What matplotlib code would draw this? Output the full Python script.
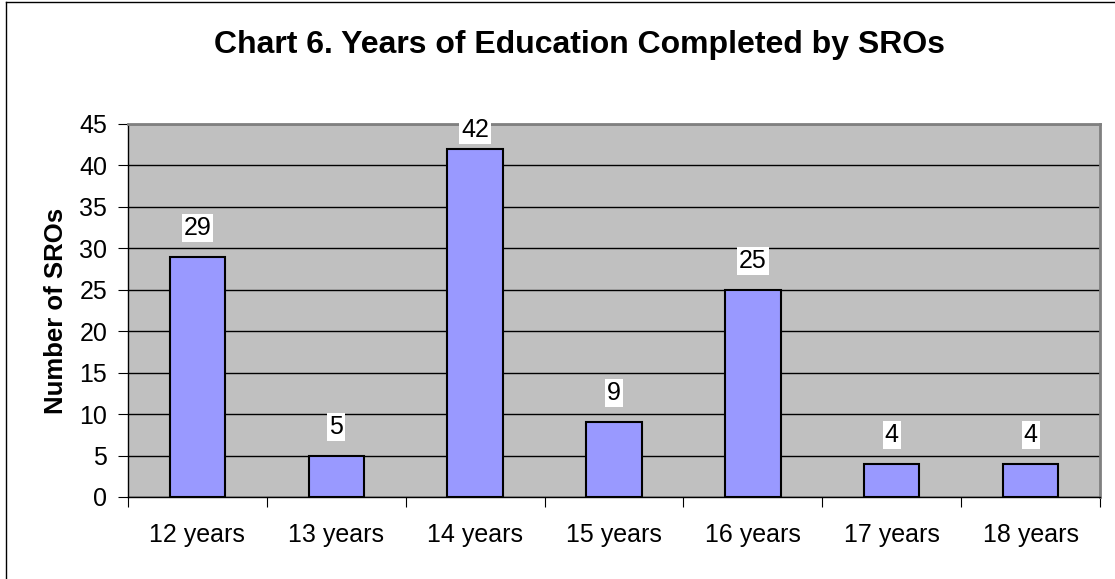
import matplotlib
matplotlib.use("Agg")
import matplotlib.pyplot as plt
from matplotlib.lines import Line2D

# === DATOS ===
categories = ["12 years", "13 years", "14 years", "15 years", "16 years", "17 years", "18 years"]
counts = [29, 5, 42, 9, 25, 4, 4]
y_ticks = [0, 5, 10, 15, 20, 25, 30, 35, 40, 45]

plt.rcParams['font.family'] = ['Liberation Sans', 'DejaVu Sans']

W, H = 1115, 579
fig = plt.figure(figsize=(W / 100, H / 100), dpi=100)

# borde exterior (solo izquierda y arriba quedan dentro de la imagen)
fig.lines.append(Line2D([5.5 / W, 5.5 / W], [0, 1 - 1.5 / H], transform=fig.transFigure,
                        color='black', linewidth=1))
fig.lines.append(Line2D([5.5 / W, 1], [1 - 1.5 / H, 1 - 1.5 / H], transform=fig.transFigure,
                        color='black', linewidth=1))

ax = fig.add_axes([128 / W, 1 - 497 / H, (1100 - 128) / W, (497 - 124) / H])
ax.set_facecolor('#C0C0C0')

x = list(range(len(categories)))
ax.bar(x, counts, width=0.4, color='#9999FF', edgecolor='black', linewidth=1.5, zorder=3)

ax.set_xlim(-0.5, len(categories) - 0.5)
ax.set_ylim(0, 45)
ax.set_yticks(y_ticks)
ax.yaxis.grid(True, color='black', linewidth=1, zorder=1)
ax.set_axisbelow(True)

# ticks del eje x entre categorias
ax.set_xticks([i + 0.5 for i in range(-1, len(categories))])
ax.set_xticklabels([])
ax.set_xticks(x, minor=True)
ax.set_xticklabels(categories, minor=True, fontsize=18)
ax.tick_params(axis='x', which='minor', length=0, pad=19)
ax.tick_params(axis='x', which='major', length=7, direction='out', color='black')
ax.tick_params(axis='y', length=7, direction='out', labelsize=18, pad=8)

for side in ['top', 'right']:
    ax.spines[side].set_color('#808080')
    ax.spines[side].set_linewidth(2)
for side in ['left', 'bottom']:
    ax.spines[side].set_color('black')
    ax.spines[side].set_linewidth(1)

# etiquetas de datos
for i, v in enumerate(counts):
    ly = min(v + 3.5, 44.3)
    ax.text(i, ly, str(v), ha='center', va='center', fontsize=18, zorder=4,
            bbox=dict(facecolor='white', edgecolor='none', pad=1.5))

ax.set_ylabel("Number of SROs", fontsize=18.5, fontweight='bold', labelpad=8)
fig.text(579 / W, 1 - 45 / H, "Chart 6. Years of Education Completed by SROs",
         ha='center', va='center', fontsize=23, fontweight='bold')

fig.savefig("out.png", dpi=100)
